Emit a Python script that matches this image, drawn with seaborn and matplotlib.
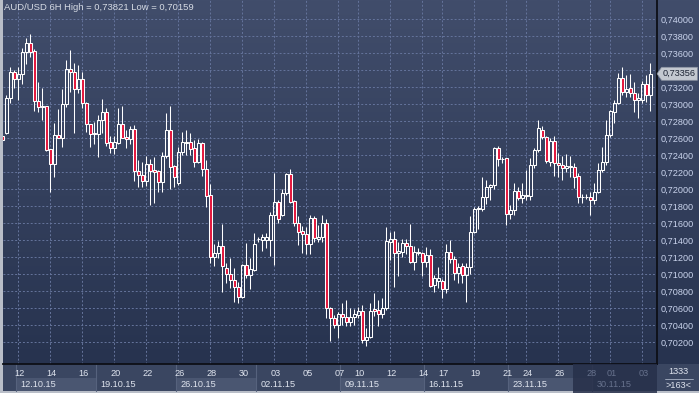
import matplotlib
matplotlib.use("Agg")
import numpy as np
import pandas as pd
import seaborn as sns
import matplotlib.pyplot as plt
from matplotlib.patches import Rectangle, Polygon

# ---------------- data (AUD/USD 6H candles) ----------------
opens = [0.72620, 0.72655, 0.73067, 0.73373, 0.73291, 0.73349, 0.73615, 0.73714, 0.73624, 0.73035,
         0.72980, 0.72977, 0.72467, 0.72291, 0.72632, 0.72596, 0.72996, 0.73408, 0.73380, 0.73173,
         0.73291, 0.73008, 0.72761, 0.72644, 0.72644, 0.72812, 0.72906, 0.72553, 0.72479, 0.72545,
         0.72765, 0.72608, 0.72585, 0.72703, 0.72212, 0.72162, 0.72091, 0.72295, 0.72224, 0.72216,
         0.72079, 0.72389, 0.72694, 0.72271, 0.72075, 0.72436, 0.72545, 0.72557, 0.72479, 0.72322,
         0.72538, 0.72232, 0.71926, 0.71196, 0.71244, 0.71330, 0.71067, 0.70996, 0.70929, 0.70851,
         0.70733, 0.71106, 0.70988, 0.71047, 0.71407, 0.71400, 0.71400, 0.71400, 0.71695, 0.71848,
         0.71695, 0.71950, 0.72177, 0.71859, 0.71604, 0.71510, 0.71467, 0.71350, 0.71656, 0.71416,
         0.71432, 0.71597, 0.70597, 0.70479, 0.70400, 0.70530, 0.70491, 0.70439, 0.70491, 0.70518,
         0.70565, 0.70224, 0.70256, 0.70585, 0.70577, 0.70530, 0.70597, 0.71380, 0.71408, 0.71251,
         0.71263, 0.71362, 0.71330, 0.71145, 0.71244, 0.71251, 0.71145, 0.71224, 0.70871, 0.70922,
         0.70922, 0.70820, 0.71263, 0.71173, 0.71008, 0.71094, 0.70988, 0.71079, 0.71498, 0.71762,
         0.71762, 0.71910, 0.72020, 0.72044, 0.72479, 0.72350, 0.72361, 0.71706, 0.71753, 0.71980,
         0.71891, 0.71918, 0.71918, 0.72283, 0.72459, 0.72694, 0.72608, 0.72322, 0.72569, 0.72303,
         0.72283, 0.72244, 0.72271, 0.72255, 0.72153, 0.71910, 0.71910, 0.71910, 0.71871, 0.71969,
         0.72224, 0.72322, 0.72636, 0.72909, 0.73016, 0.73303, 0.73145, 0.73185, 0.73133, 0.73047,
         0.73047, 0.73235, 0.73106]
highs = [0.72660, 0.73106, 0.73432, 0.73400, 0.73439, 0.73655, 0.73773, 0.73821, 0.73644, 0.73262,
         0.73185, 0.72980, 0.72467, 0.72773, 0.72938, 0.73180, 0.73518, 0.73635, 0.73486, 0.73459,
         0.73380, 0.73027, 0.72761, 0.72792, 0.72871, 0.73055, 0.72949, 0.72624, 0.72624, 0.72949,
         0.72977, 0.72694, 0.72742, 0.72753, 0.72342, 0.72318, 0.72389, 0.72350, 0.72373, 0.72224,
         0.72436, 0.72898, 0.72977, 0.72283, 0.72498, 0.72674, 0.72694, 0.72655, 0.72577, 0.72585,
         0.72557, 0.72342, 0.72059, 0.71353, 0.71392, 0.71589, 0.71126, 0.71185, 0.71067, 0.70910,
         0.71118, 0.71362, 0.71185, 0.71479, 0.71432, 0.71471, 0.71486, 0.71733, 0.72192, 0.71871,
         0.71997, 0.72185, 0.72232, 0.71871, 0.71683, 0.71565, 0.71550, 0.71695, 0.71683, 0.71577,
         0.71695, 0.71644, 0.70609, 0.70518, 0.70557, 0.70663, 0.70694, 0.70597, 0.70585, 0.70609,
         0.70636, 0.70361, 0.70655, 0.70780, 0.70694, 0.70714, 0.71550, 0.71498, 0.71510, 0.71380,
         0.71408, 0.71408, 0.71589, 0.71330, 0.71303, 0.71263, 0.71322, 0.71291, 0.70989, 0.71086,
         0.70938, 0.71353, 0.71400, 0.71212, 0.71126, 0.71126, 0.71126, 0.71683, 0.71785, 0.71800,
         0.72138, 0.72106, 0.72059, 0.72491, 0.72506, 0.72380, 0.72361, 0.71812, 0.72075, 0.72020,
         0.72067, 0.72224, 0.72361, 0.72479, 0.72812, 0.72742, 0.72624, 0.72596, 0.72624, 0.72420,
         0.72389, 0.72412, 0.72389, 0.72310, 0.72185, 0.71941, 0.71941, 0.71969, 0.72075, 0.72303,
         0.72498, 0.72812, 0.72930, 0.73047, 0.73369, 0.73439, 0.73341, 0.73353, 0.73262, 0.73126,
         0.73274, 0.73341, 0.73486]
lows = [0.72540, 0.72650, 0.73008, 0.73185, 0.73047, 0.73232, 0.73471, 0.73556, 0.72921, 0.72909,
        0.72812, 0.72451, 0.71968, 0.72138, 0.72596, 0.72498, 0.72961, 0.73145, 0.72655, 0.73133,
        0.72949, 0.72674, 0.72491, 0.72529, 0.72380, 0.72655, 0.72506, 0.72420, 0.72412, 0.72529,
        0.72596, 0.72479, 0.72529, 0.72098, 0.72020, 0.72027, 0.72036, 0.71812, 0.71839, 0.71968,
        0.71968, 0.72361, 0.71997, 0.72027, 0.72047, 0.72400, 0.72400, 0.72400, 0.72263, 0.72303,
        0.72153, 0.71785, 0.71126, 0.71095, 0.71189, 0.70792, 0.70898, 0.70832, 0.70675, 0.70663,
        0.70714, 0.70949, 0.70820, 0.71039, 0.71380, 0.71275, 0.71303, 0.71212, 0.71106, 0.71597,
        0.71683, 0.71930, 0.71832, 0.71565, 0.71342, 0.71251, 0.71236, 0.71236, 0.71380, 0.71380,
        0.71380, 0.70479, 0.70216, 0.70361, 0.70244, 0.70400, 0.70388, 0.70388, 0.70400, 0.70479,
        0.70185, 0.70159, 0.70244, 0.70506, 0.70388, 0.70479, 0.70577, 0.71165, 0.70851, 0.70977,
        0.71196, 0.71236, 0.71133, 0.71047, 0.71224, 0.70977, 0.71086, 0.70843, 0.70792, 0.70832,
        0.70714, 0.70780, 0.71126, 0.70929, 0.70898, 0.70898, 0.70675, 0.71000, 0.71486, 0.71526,
        0.71745, 0.71824, 0.71871, 0.71997, 0.72271, 0.72310, 0.71577, 0.71644, 0.71695, 0.71871,
        0.71832, 0.71871, 0.71871, 0.72244, 0.72439, 0.72585, 0.72303, 0.72271, 0.72153, 0.72145,
        0.72106, 0.72204, 0.72145, 0.72009, 0.71839, 0.71839, 0.71879, 0.71695, 0.71824, 0.71957,
        0.72204, 0.72283, 0.72608, 0.72773, 0.73000, 0.73106, 0.73086, 0.73086, 0.72909, 0.72832,
        0.73008, 0.73027, 0.72914]
closes = [0.72580, 0.73067, 0.73373, 0.73291, 0.73349, 0.73615, 0.73721, 0.73615, 0.73035, 0.72968,
          0.72970, 0.72459, 0.72291, 0.72632, 0.72596, 0.72996, 0.73408, 0.73380, 0.73173, 0.73291,
          0.73008, 0.72761, 0.72644, 0.72655, 0.72812, 0.72906, 0.72545, 0.72479, 0.72550, 0.72765,
          0.72604, 0.72585, 0.72703, 0.72212, 0.72162, 0.72091, 0.72295, 0.72216, 0.72204, 0.72079,
          0.72389, 0.72694, 0.72263, 0.72138, 0.72436, 0.72557, 0.72557, 0.72467, 0.72322, 0.72538,
          0.72232, 0.71918, 0.71196, 0.71244, 0.71330, 0.71095, 0.70996, 0.70929, 0.70851, 0.70733,
          0.71106, 0.70988, 0.71055, 0.71353, 0.71408, 0.71432, 0.71432, 0.71695, 0.71848, 0.71651,
          0.71957, 0.72177, 0.71851, 0.71604, 0.71498, 0.71467, 0.71350, 0.71656, 0.71420, 0.71439,
          0.71597, 0.70597, 0.70479, 0.70400, 0.70530, 0.70491, 0.70439, 0.70491, 0.70530, 0.70569,
          0.70224, 0.70263, 0.70565, 0.70565, 0.70530, 0.70604, 0.71388, 0.71408, 0.71251, 0.71271,
          0.71362, 0.71330, 0.71145, 0.71263, 0.71263, 0.71145, 0.71224, 0.70859, 0.70950, 0.70950,
          0.70820, 0.71263, 0.71173, 0.71008, 0.71086, 0.70988, 0.71079, 0.71498, 0.71762, 0.71773,
          0.71910, 0.72020, 0.72044, 0.72479, 0.72350, 0.72352, 0.71706, 0.71753, 0.71980, 0.71891,
          0.71930, 0.71930, 0.72283, 0.72459, 0.72718, 0.72608, 0.72333, 0.72569, 0.72303, 0.72283,
          0.72244, 0.72271, 0.72255, 0.72145, 0.71903, 0.71912, 0.71912, 0.71871, 0.71969, 0.72224,
          0.72322, 0.72636, 0.72918, 0.73016, 0.73303, 0.73145, 0.73173, 0.73126, 0.73047, 0.73067,
          0.73235, 0.73106, 0.73356]

day_label_bars = [3, 11, 19, 27, 35, 43, 51, 59, 67, 75, 83, 88, 96, 104, 109, 117, 125, 130, 138, 146, 151, 159]
day_labels = ["12", "14", "16", "20", "22", "26", "28", "30", "03", "05", "07",
              "10", "12", "14", "17", "19", "21", "24", "26", "28", "01", "03"]
week_start_bars = [3, 23, 43, 63, 84, 105, 126, 147]
week_labels = ["12.10.15", "19.10.15", "26.10.15", "02.11.15", "09.11.15", "16.11.15", "23.11.15", "30.11.15"]
price_ticks = [0.702, 0.704, 0.706, 0.708, 0.710, 0.712, 0.714, 0.716, 0.718, 0.720,
               0.722, 0.724, 0.726, 0.728, 0.730, 0.732, 0.734, 0.736, 0.738, 0.740]
title_text = "AUD/USD 6H High = 0,73821 Low = 0,70159"
last_price = 0.73356
shade_from_bar = 142
bars_on_chart = "1333"
bars_shown = ">163<"

df = pd.DataFrame({"bar": np.arange(len(opens)) - 1, "open": opens, "high": highs,
                   "low": lows, "close": closes})
df["top"] = df[["open", "close"]].max(axis=1)
df["bot"] = df[["open", "close"]].min(axis=1)
df["bull"] = df["close"] >= df["open"]

# ---------------- style ----------------
sns.set_theme(style="dark")
plt.rcParams["font.family"] = ["Liberation Sans", "DejaVu Sans"]

W, H = 699, 393
fig = plt.figure(figsize=(W / 100, H / 100), dpi=100)
fig.patch.set_facecolor("#2c3853")

TXT = "#dfe4ee"
GRID = "#65749c"
RED = "#e3173d"

# background (gradient + bottom strip + frame)
bg = fig.add_axes([0, 0, 1, 1], zorder=0)
bg.set_xlim(0, W)
bg.set_ylim(H, 0)
bg.axis("off")
top_c = np.array([0x41, 0x4d, 0x6b]) / 255
bot_c = np.array([0x27, 0x33, 0x4f]) / 255
t = np.linspace(0, 1, 256)[:, None, None]
grad = top_c[None, None, :] * (1 - t) + bot_c[None, None, :] * t
bg.imshow(grad, extent=(0, W, 364, 0), aspect="auto", interpolation="bilinear")
bg.add_patch(Rectangle((0, 364), W, 29, facecolor="#3a4661", edgecolor="none"))
bg.add_patch(Rectangle((0, 0), 2.5, H, facecolor="#b9bec8", edgecolor="none"))
bg.add_patch(Rectangle((0, 391), W, 2, facecolor="#b9bec8", edgecolor="none"))

# main axes
ax = fig.add_axes([3 / W, 29 / H, 653.7 / W, 364 / H], zorder=1)
ax.set_facecolor("none")
ax.set_xlim(-0.83, 162.59)
ax.set_ylim(0.699417, 0.74224)

# grid and price scale (the label under the last-price tag is hidden, as in the original)
tag_half = 6.5 / 8500
ax.set_yticks(price_ticks)
ax.set_yticklabels(["" if abs(v - last_price) < 1.5 * tag_half else f"{v:.5f}".replace(".", ",")
                    for v in price_ticks])
ax.set_xticks(day_label_bars)
ax.set_xticklabels([])
ax.grid(True, color=GRID, linestyle=(0, (2, 2)), linewidth=0.7)
ax.yaxis.tick_right()
ax.tick_params(axis="y", length=0, pad=3, labelsize=6.6, labelcolor="#c9d3ec")
ax.tick_params(axis="x", length=0)
for s in ["left", "top"]:
    ax.spines[s].set_visible(False)
for s in ["right", "bottom"]:
    ax.spines[s].set_color("#0d0f16")
    ax.spines[s].set_linewidth(1.3)

# candles: wicks
ax.vlines(df["bar"], df["top"], df["high"], color="white", linewidth=0.75, zorder=3)
ax.vlines(df["bar"], df["low"], df["bot"], color="white", linewidth=0.75, zorder=3)
# bodies
bull = df[df["bull"]]
bear = df[~df["bull"]]
ax.bar(bull["bar"], np.maximum(bull["top"] - bull["bot"], 1e-6), bottom=bull["bot"], width=0.62,
       facecolor="none", edgecolor="white", linewidth=0.75, zorder=4)
ax.bar(bear["bar"], np.maximum(bear["top"] - bear["bot"], 1e-6), bottom=bear["bot"], width=0.62,
       facecolor=RED, edgecolor="white", linewidth=0.75, zorder=4)

# header
ax.text(0.0015, 1 - 8 / 364, title_text, transform=ax.transAxes, ha="left", va="center",
        fontsize=6.8, color="#d6dbe4", zorder=6)

# bottom time strip
xt = ax.get_xaxis_transform()
y_day = -(373 - 364) / 364
y_week = -(384.5 - 364) / 364
box_lo, box_hi = -(391 - 364) / 364, -(378 - 364) / 364
week_edges = list(week_start_bars) + [163]
for i, (ws, lab) in enumerate(zip(week_start_bars, week_labels)):
    x0 = ws - 0.5
    x1 = week_edges[i + 1] - 0.5
    if i % 2 == 0:
        ax.add_patch(Rectangle((x0, box_lo), x1 - x0, box_hi - box_lo, transform=xt,
                               facecolor="#4a5671", edgecolor="none", clip_on=False, zorder=2))
    ax.plot([x0, x0], [0, box_lo], transform=xt, color="#56627d", linewidth=0.8,
            clip_on=False, zorder=2)
# dark shaded zone at right of strip
ax.add_patch(Rectangle((shade_from_bar - 0.3, box_lo - 0.01), 163 - shade_from_bar, -box_lo + 0.01,
                       transform=xt, facecolor="#27304a", edgecolor="none", alpha=0.85,
                       clip_on=False, zorder=3))
for b, lab in zip(day_label_bars, day_labels):
    dim = b >= shade_from_bar
    ax.text(b + 0.3, y_day, lab, transform=xt, ha="center", va="center", fontsize=6.6,
            color="#66718c" if dim else TXT, clip_on=False, zorder=4)
for ws, lab in zip(week_start_bars, week_labels):
    dim = ws >= shade_from_bar
    ax.text(ws + 0.6, y_week, lab, transform=xt, ha="left", va="center", fontsize=6.6,
            color="#66718c" if dim else TXT, clip_on=False, zorder=4)

# bottom right info box
yt = ax.get_yaxis_transform()
ax.text(1.0 + 22 / 653.7, -(372 - 364) / 364, bars_on_chart, transform=ax.transAxes,
        ha="center", va="center", fontsize=6.6, color=TXT, clip_on=False, zorder=6)
ax.plot([1.0 + 8 / 653.7, 1.0 + 36 / 653.7], [-(378.5 - 364) / 364] * 2, transform=ax.transAxes,
        color="#aab3c6", linewidth=0.6, clip_on=False, zorder=6)
ax.text(1.0 + 22 / 653.7, -(385 - 364) / 364, bars_shown, transform=ax.transAxes,
        ha="center", va="center", fontsize=6.6, color=TXT, clip_on=False, zorder=6)

# last price tag
px = [1.0006, 1.0075, 1.0622, 1.0622, 1.0075]
py = [last_price, last_price + tag_half, last_price + tag_half, last_price - tag_half, last_price - tag_half]
ax.add_patch(Polygon(list(zip(px, py)), closed=True, transform=yt, facecolor="#c3c8d0",
                     edgecolor="#8d94a3", linewidth=0.5, clip_on=False, zorder=10))
ax.text(1.0085, last_price, f"{last_price:.5f}".replace(".", ","), transform=yt, ha="left",
        va="center", fontsize=6.6, color="#1c2333", clip_on=False, zorder=11)

fig.savefig("out.png", dpi=100, facecolor=fig.get_facecolor())
